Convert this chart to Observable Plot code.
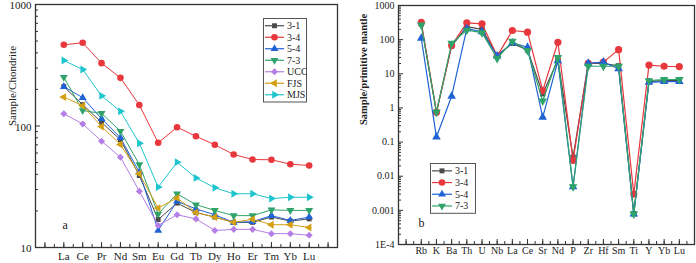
<!DOCTYPE html>
<html><head><meta charset="utf-8">
<script src="https://cdn.jsdelivr.net/npm/d3@7"></script>
<script src="https://cdn.jsdelivr.net/npm/@observablehq/plot@0.6"></script>
<style>
body{margin:0;background:#fff;}
#wrap{position:relative;width:696px;height:263px;font-family:"Liberation Serif",serif;overflow:hidden;}
#left{position:absolute;left:0;top:0;}
#right{position:absolute;left:345px;top:0;}
.leg{position:absolute;}
</style></head><body><div id="wrap"><div id="left"></div><div id="right"></div></div>
<script>
// ---- Panel a: chondrite-normalised REE ----
const reeElements = ["La","Ce","Pr","Nd","Sm","Eu","Gd","Tb","Dy","Ho","Er","Tm","Yb","Lu"];
const ree_3_1 = [211,150,107,77,39.1,17.0,23.2,19.4,17.8,16.1,16.1,17.8,16.5,17.2];
const ree_3_4 = [466,484,329,249,149,72.7,97.7,82.4,70,58.3,53,52.7,48.5,47.3];
const ree_5_4 = [211,171,115,80,41.7,13.8,24,20.8,18.6,16.1,16.3,18.3,16.7,17.8];
const ree_7_3 = [252,134,127,90.6,48.2,18.9,27.7,22.5,20.2,18.3,18.3,20.4,20.2,20.2];
const ree_UCC = [126,104,75,55.4,29.1,15.2,18.6,17.2,13.8,14.1,14.1,13.0,13.0,12.6];
const ree_FJS = [173,147,99,70.4,40.4,21.1,25.6,19.4,17.8,16.1,17.1,15.4,15.4,14.6];
const ree_MJS = [346,292,177,132,72.2,31.4,50.4,37.4,31,27.7,27.7,25.3,25.9,25.9];
const reeTicks = [10,100,1000];

// ---- Panel b: primitive-mantle-normalised trace elements ----
const pmElements = ["Rb","K","Ba","Th","U","Nb","La","Ce","Sr","Nd","P","Zr","Hf","Sm","Ti","Y","Yb","Lu"];
const pm_3_1 = [290,0.75,65,240,200,35,78,50,2.6,25,0.036,20,20,17,0.0008,6,6.3,6.3];
const pm_3_4 = [320,0.75,68,310,290,33,185,165,3.2,84,0.029,20.3,22,51,0.003,18,16.6,16.3];
const pm_5_4 = [110,0.14,2.2,210,170,33,80,60,0.53,24,0.0049,20.3,22,14,0.00078,5.6,5.9,5.9];
const pm_7_3 = [270,0.75,78,190,160,28,90,48,1.6,30,0.0049,16.6,16.6,16.6,0.00078,6.3,6.8,6.8];
const pmTicks = [1e-4,0.001,0.01,0.1,1,10,100,1000];
const pmTickLabels = ["1E-4","0.001","0.01","0.1","1","10","100","1000"];

// ---- styles ----
const tri = (a) => ({draw(ctx, size){ const r = Math.sqrt(size)*0.78; for (let k=0;k<3;k++){const t=a+k*2*Math.PI/3; const x=r*Math.cos(t), y=r*Math.sin(t); k?ctx.lineTo(x,y):ctx.moveTo(x,y);} ctx.closePath(); }});
const sq = {draw(ctx,size){const s=Math.sqrt(size)*0.42; ctx.rect(-s,-s,2*s,2*s);}};
const dia = {draw(ctx,size){const s=Math.sqrt(size)*0.6; ctx.moveTo(0,-s);ctx.lineTo(s,0);ctx.lineTo(0,s);ctx.lineTo(-s,0);ctx.closePath();}};
const sym = {square:sq, circle:"circle", up:tri(-Math.PI/2), down:tri(Math.PI/2), left:tri(Math.PI), right:tri(0), diamond:dia};

const leftSeries = [
  {name:"3-1", values:ree_3_1, color:"#4a4a4a", symbol:"square"},
  {name:"3-4", values:ree_3_4, color:"#e8383d", symbol:"circle"},
  {name:"5-4", values:ree_5_4, color:"#1f63d6", symbol:"up"},
  {name:"7-3", values:ree_7_3, color:"#2fa46a", symbol:"down"},
  {name:"UCC", values:ree_UCC, color:"#b57ee6", symbol:"diamond"},
  {name:"FJS", values:ree_FJS, color:"#d4a012", symbol:"left"},
  {name:"MJS", values:ree_MJS, color:"#1ec5cf", symbol:"right"}
];
const rightSeries = [
  {name:"3-1", values:pm_3_1, color:"#4a4a4a", symbol:"square"},
  {name:"3-4", values:pm_3_4, color:"#e8383d", symbol:"circle"},
  {name:"5-4", values:pm_5_4, color:"#1f63d6", symbol:"up"},
  {name:"7-3", values:pm_7_3, color:"#2fa46a", symbol:"down"}
];

function seriesMarks(series, r, sw){
  return series.flatMap(s => {
    const rows = s.values.map((v,i)=>({i, v}));
    return [
      Plot.line(rows, {x:"i", y:"v", stroke:s.color, strokeWidth:sw}),
      Plot.dot(rows, {x:"i", y:"v", fill:s.color, stroke:"none", r, symbol: sym[s.symbol]})
    ];
  });
}
function logMinor(lo, hi){ const out=[]; for(let e=lo;e<hi;e++){for(let m=2;m<=9;m++) out.push(m*Math.pow(10,e));} return out; }
function halfTicks(a,b){ const out=[]; for(let v=a; v<=b; v+=0.5) out.push(v); return out; }

const font = {fontFamily:'"Liberation Serif", serif', fontSize:"11px", color:"#222", background:"#fff", overflow:"visible"};

const leftPlot = Plot.plot({
  width:345, height:263, marginLeft:35, marginRight:8, marginTop:4, marginBottom:16,
  style: font,
  x:{domain:[-1.5,14.5], axis:null},
  y:{type:"log", domain:[10,1000], axis:null},
  marks:[
    Plot.frame({stroke:"#333", strokeWidth:1.3}),
    Plot.axisY({ticks:reeTicks, tickSize:0, tickPadding:4, dy:1, tickFormat:d=>String(d), label:null, fontSize:11}),
    Plot.axisY({ticks:reeTicks, tickSize:5, dx:5, tickFormat:()=>"", label:null, stroke:"#333"}),
    Plot.axisY({ticks:logMinor(1,3), tickSize:3, dx:3, tickFormat:()=>"", label:null, stroke:"#333"}),
    Plot.axisX({ticks:d3.range(reeElements.length), tickSize:0, tickPadding:5, tickFormat:i=>reeElements[i], label:null, fontSize:11}),
    Plot.axisX({ticks:halfTicks(-1,14), tickSize:3, dy:-3, tickFormat:()=>"", label:null, stroke:"#333"}),
    Plot.axisX({ticks:d3.range(-1,15), tickSize:5, dy:-5, tickFormat:()=>"", label:null, stroke:"#333"}),
    ...seriesMarks(leftSeries, 3.3, 1),
    Plot.text(["a"], {frameAnchor:"bottom-left", dx:27, dy:-19, fontSize:12}),
    Plot.text(["Sample/Chondrite"], {frameAnchor:"left", dx:-23, rotate:-90, fontSize:11})
  ]
});
document.getElementById("left").appendChild(leftPlot);

const rightPlot = Plot.plot({
  width:351, height:263, marginLeft:53, marginRight:2, marginTop:5, marginBottom:19,
  style: font,
  x:{domain:[-1.5,18], axis:null},
  y:{type:"log", domain:[1e-4,1000], axis:null},
  marks:[
    Plot.frame({stroke:"#333", strokeWidth:1.3}),
    Plot.axisY({ticks:pmTicks, tickSize:0, tickPadding:4, tickFormat:d=>pmTickLabels[pmTicks.indexOf(d)], label:null, fontSize:10}),
    Plot.axisY({ticks:pmTicks, tickSize:5, dx:5, tickFormat:()=>"", label:null, stroke:"#333"}),
    Plot.axisY({ticks:logMinor(-4,3), tickSize:3, dx:3, tickFormat:()=>"", label:null, stroke:"#333"}),
    Plot.axisX({ticks:d3.range(pmElements.length), tickSize:0, tickPadding:2, tickFormat:i=>pmElements[i], label:null, fontSize:10}),
    Plot.axisX({ticks:halfTicks(-1,17.5), tickSize:3, dy:-3, tickFormat:()=>"", label:null, stroke:"#333"}),
    Plot.axisX({ticks:d3.range(-1,18), tickSize:5, dy:-5, tickFormat:()=>"", label:null, stroke:"#333"}),
    ...seriesMarks(rightSeries, 3.6, 1.2),
    Plot.text(["b"], {frameAnchor:"bottom-left", dx:20, dy:-18, fontSize:12}),
    Plot.text(["Sample/primitive mantle"], {frameAnchor:"left", dx:-35, rotate:-90, fontSize:10.5, fontWeight:"bold"})
  ]
});
document.getElementById("right").appendChild(rightPlot);

// ---- legends ----
function legend(series, left, top, w, rowH, lineLen, textX){
  const h = series.length*rowH + 4;
  const svg = d3.create("svg").attr("class","leg").attr("width",w).attr("height",h)
    .style("left",left+"px").style("top",top+"px").style("position","absolute");
  svg.append("rect").attr("x",0.5).attr("y",0.5).attr("width",w-1).attr("height",h-1).attr("fill","#fff").attr("stroke","#555");
  series.forEach((s,k)=>{
    const y = 2 + rowH*(k+0.5);
    svg.append("line").attr("x1",2).attr("x2",2+lineLen).attr("y1",y).attr("y2",y).attr("stroke",s.color).attr("stroke-width",1.2);
    const p = d3.path(); const S = sym[s.symbol];
    if (S === "circle") { p.arc(0,0,3.3,0,2*Math.PI); } else { S.draw(p, Math.PI*3.3*3.3); }
    svg.append("path").attr("d",p.toString()).attr("transform",`translate(${2+lineLen/2},${y})`).attr("fill",s.color);
    svg.append("text").attr("x",textX).attr("y",y).attr("dy","0.35em").attr("font-size",10)
      .attr("font-family",'"Liberation Serif", serif').attr("fill","#222").text(s.name);
  });
  document.getElementById("wrap").appendChild(svg.node());
}
legend(leftSeries, 263, 18, 44, 11.5, 19, 24);
legend(rightSeries, 430, 163, 46, 11.7, 20, 25);
</script></body></html>
